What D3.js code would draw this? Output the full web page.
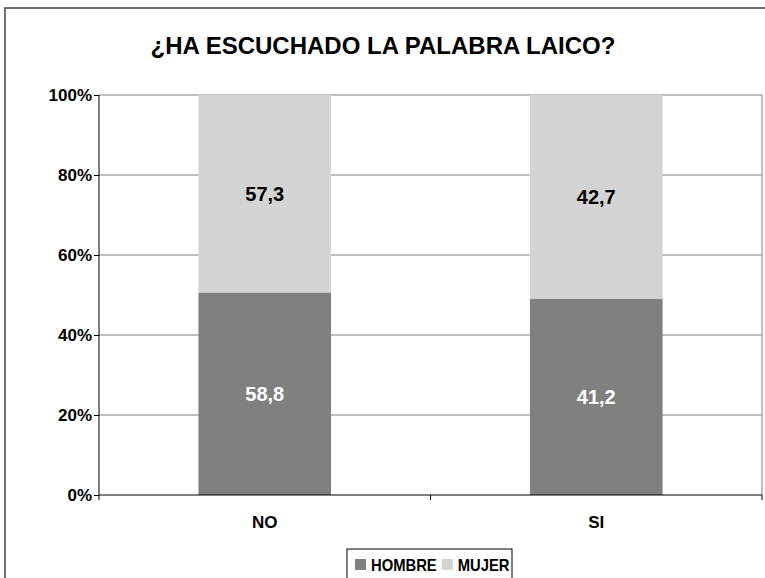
<!DOCTYPE html>
<html>
<head>
<meta charset="utf-8">
<script src="https://cdn.jsdelivr.net/npm/d3@7"></script>
<style>
  body { margin: 0; background: #fff; }
  text { font-family: "Liberation Sans", Arial, sans-serif; font-weight: bold; }
</style>
</head>
<body>
<svg id="chart" width="765" height="578"></svg>
<script>
// chart data
const categories = ["NO", "SI"];
const series = ["HOMBRE", "MUJER"];
const hombre = [58.8, 41.2];
const mujer = [57.3, 42.7];
const yTicks = [0, 0.2, 0.4, 0.6, 0.8, 1];
const title = "¿HA ESCUCHADO LA PALABRA LAICO?";

const colors = { HOMBRE: "#808080", MUJER: "#d4d4d4" };
const labelColors = { HOMBRE: "#ffffff", MUJER: "#000000" };

const svg = d3.select("#chart");

// outer frame (runs off the right/bottom edge like the original)
svg.append("rect")
  .attr("x", 5).attr("y", 8)
  .attr("width", 800).attr("height", 600)
  .attr("fill", "#fff")
  .attr("stroke", "#404040")
  .attr("stroke-width", 1.5);

const margin = { top: 95, left: 99, right: 3, bottom: 83 };
const width = 765 - margin.left - margin.right;
const height = 578 - margin.top - margin.bottom;

const rows = categories.map((c, i) => ({ cat: c, HOMBRE: hombre[i], MUJER: mujer[i] }));
// normalise to 100%
const stack = d3.stack().keys(series).offset(d3.stackOffsetExpand);
const layers = stack(rows);

const x = d3.scaleBand().domain(categories).range([0, width]).paddingInner(0.6).paddingOuter(0.3);
const xOuter = d3.scaleBand().domain(categories).range([0, width]);
const y = d3.scaleLinear().domain([0, 1]).range([height, 0]);

const g = svg.append("g").attr("transform", `translate(${margin.left},${margin.top})`);

// gridlines
g.append("g")
  .selectAll("line")
  .data(yTicks.filter(t => t > 0))
  .join("line")
  .attr("x1", 0).attr("x2", width)
  .attr("y1", d => y(d)).attr("y2", d => y(d))
  .attr("stroke", "#808080")
  .attr("stroke-width", 1);

// right border of plot
g.append("line")
  .attr("x1", width).attr("x2", width)
  .attr("y1", 0).attr("y2", height)
  .attr("stroke", "#808080");

// bars
const layer = g.selectAll(".layer")
  .data(layers)
  .join("g")
  .attr("fill", d => colors[d.key]);

layer.selectAll("rect")
  .data(d => d)
  .join("rect")
  .attr("x", d => x(d.data.cat))
  .attr("width", x.bandwidth())
  .attr("y", d => y(d[1]))
  .attr("height", d => y(d[0]) - y(d[1]));

// value labels
layers.forEach(l => {
  g.append("g")
    .selectAll("text")
    .data(l)
    .join("text")
    .attr("x", d => x(d.data.cat) + x.bandwidth() / 2)
    .attr("y", d => (y(d[0]) + y(d[1])) / 2)
    .attr("dy", "0.36em")
    .attr("text-anchor", "middle")
    .attr("font-size", 20)
    .attr("fill", labelColors[l.key])
    .text(d => d3.format(".1f")(d.data[l.key]).replace(".", ","));
});

// y axis
const yAxis = g.append("g")
  .call(d3.axisLeft(y).tickValues(yTicks).tickFormat(d3.format(".0%")).tickSize(5).tickPadding(2));
yAxis.select(".domain").attr("stroke", "#000").attr("d", `M0,${height}V0`);
yAxis.selectAll(".tick line").attr("stroke", "#000");
yAxis.selectAll("text")
  .attr("font-size", 17)
  .attr("font-family", "Liberation Sans, Arial, sans-serif")
  .attr("font-weight", "bold")
  .attr("fill", "#000");

// x axis with ticks between categories
const xAxis = g.append("g").attr("transform", `translate(0,${height})`);
xAxis.append("line")
  .attr("x1", 0).attr("x2", width)
  .attr("stroke", "#000");
xAxis.selectAll(".sep")
  .data([0, ...categories.map(c => xOuter(c) + xOuter.bandwidth())])
  .join("line")
  .attr("x1", d => d).attr("x2", d => d)
  .attr("y1", 0).attr("y2", 5)
  .attr("stroke", "#000");
xAxis.selectAll(".cat")
  .data(categories)
  .join("text")
  .attr("x", d => x(d) + x.bandwidth() / 2)
  .attr("y", 33)
  .attr("text-anchor", "middle")
  .attr("font-size", 17)
  .attr("fill", "#000")
  .text(d => d);

// title
svg.append("text")
  .attr("x", 383)
  .attr("y", 54)
  .attr("text-anchor", "middle")
  .attr("font-size", 24)
  .text(title);

// legend (text a bit condensed, like the original)
const lg = svg.append("g").attr("transform", "translate(347,549)");
lg.append("rect")
  .attr("width", 165).attr("height", 40)
  .attr("fill", "#fff")
  .attr("stroke", "#000");
let lx = 8;
series.forEach(s => {
  lg.append("rect")
    .attr("x", lx).attr("y", 10)
    .attr("width", 11).attr("height", 11)
    .attr("fill", colors[s]);
  const t = lg.append("text")
    .attr("x", lx + 16).attr("y", 22)
    .attr("font-size", 17)
    .text(s);
  const w = t.node().getComputedTextLength() * 0.87;
  t.attr("textLength", w).attr("lengthAdjust", "spacingAndGlyphs");
  lx += 16 + w + 5;
});
</script>
</body>
</html>
